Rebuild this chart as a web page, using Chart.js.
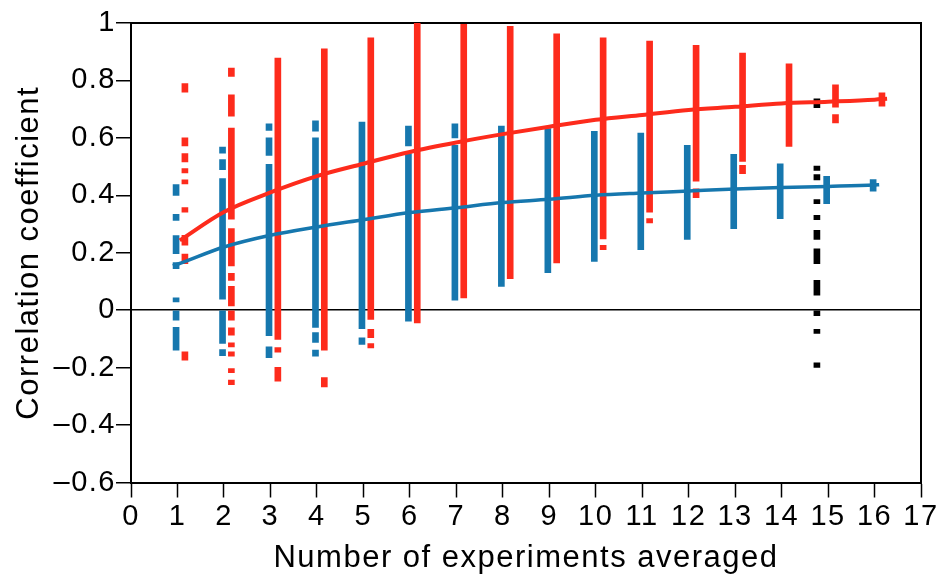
<!DOCTYPE html>
<html>
<head>
<meta charset="utf-8">
<script src="https://cdn.jsdelivr.net/npm/chart.js@4.4.1/dist/chart.umd.min.js"></script>
<style>
    html, body { margin: 0; padding: 0; background: #fff; }
    canvas { display: block; }
</style>
</head>
<body>
<canvas id="chart" width="943" height="578"></canvas>
<script>
const experiments = [1, 2, 3, 4, 5, 6, 7, 8, 9, 10, 11, 12, 13, 14, 15, 16]

// spread of correlation values for each number of averaged experiments, [low, high] pieces
const blueRanges = [
    [[0.40, 0.437], [0.313, 0.334], [0.197, 0.26], [0.145, 0.166], [0.029, 0.043], [-0.035, -0.002], [-0.139, -0.06]],
    [[0.547, 0.568], [0.489, 0.524], [0.038, 0.458], [-0.116, -0.002], [-0.158, -0.137]],
    [[0.626, 0.649], [0.539, 0.6], [-0.089, 0.508], [-0.165, -0.128]],
    [[0.623, 0.659], [-0.06, 0.6], [-0.112, -0.078], [-0.16, -0.139]],
    [[-0.064, 0.655], [-0.119, -0.096]],
    [[0.572, 0.641], [-0.038, 0.545]],
    [[0.6, 0.649], [0.035, 0.574]],
    [[0.083, 0.641]],
    [[0.131, 0.632]],
    [[0.17, 0.623]],
    [[0.211, 0.617]],
    [[0.246, 0.574]],
    [[0.284, 0.543]],
    [[0.319, 0.51]],
    [[0.371, 0.466]],
    [[0.414, 0.455]],
]

const redRanges = [
    [[0.759, 0.789], [0.572, 0.6], [0.516, 0.545], [0.478, 0.493], [0.44, 0.454], [0.341, 0.357], [0.226, 0.261], [0.162, 0.195], [-0.174, -0.145]],
    [[0.814, 0.843], [0.676, 0.75], [0.317, 0.634], [0.154, 0.284], [0.104, 0.128], [0.015, 0.083], [-0.035, 0], [-0.087, -0.061], [-0.128, -0.114], [-0.16, -0.145], [-0.218, -0.203], [-0.259, -0.243]],
    [[-0.102, 0.878], [-0.146, -0.13], [-0.247, -0.199]],
    [[-0.139, 0.91], [-0.267, -0.235]],
    [[-0.032, 0.948], [-0.096, -0.067], [-0.131, -0.116]],
    [[-0.044, 1.0]],
    [[0.043, 0.995]],
    [[0.11, 0.988]],
    [[0.165, 0.962]],
    [[0.248, 0.948], [0.211, 0.226]],
    [[0.341, 0.937], [0.304, 0.319]],
    [[0.449, 0.922], [0.392, 0.423]],
    [[0.518, 0.895], [0.475, 0.504]],
    [[0.57, 0.858]],
    [[0.707, 0.785], [0.652, 0.681]],
    [[0.71, 0.757]],
]

const blackX = 14.76
const blackRanges = [[0.705, 0.736], [0.487, 0.502], [0.454, 0.472], [0.371, 0.385], [0.315, 0.33], [0.246, 0.278], [0.162, 0.214], [0.052, 0.104], [-0.019, 0], [-0.081, -0.067], [-0.199, -0.183]]

// fitted curves
const blueFitX = [0.9, 1, 2, 3, 4, 5, 6, 7, 8, 9, 10, 11, 12, 13, 14, 15, 16, 16.1]
const blueFit = [0.155, 0.16, 0.22, 0.261, 0.29, 0.315, 0.34, 0.357, 0.375, 0.386, 0.4, 0.408, 0.415, 0.422, 0.427, 0.431, 0.436, 0.437]
const redFitX = [1.05, 2, 3, 4, 5, 6, 7, 8, 9, 10, 11, 12, 13, 14, 15, 16, 16.27]
const redFit = [0.243, 0.342, 0.41, 0.467, 0.51, 0.551, 0.584, 0.613, 0.639, 0.663, 0.68, 0.697, 0.708, 0.72, 0.726, 0.733, 0.736]

const yTickLabels = ['\u20130.6', '\u20130.4', '\u20130.2', '0', '0.2', '0.4', '0.6', '0.8', '1']

const RED = '#fd2b1c'
const BLUE = '#1677ae'
const FONT = "'Liberation Sans', Helvetica, Arial, sans-serif"
const blueShift = -0.03
const redShift = 0.16

const toBars = (ranges, shift) => experiments.flatMap((n, i) => ranges[i].map(r => ({ x: n + shift, y: r })))
const toLine = (xs, ys) => xs.map((x, i) => ({ x, y: ys[i] }))

const barStyle = { type: 'bar', grouped: false, maxBarThickness: 6, barPercentage: 1, categoryPercentage: 1, borderWidth: 0, order: 1 }
const lineStyle = { type: 'line', pointRadius: 0, borderWidth: 4, cubicInterpolationMode: 'monotone', fill: false, order: 0 }

const letterSpacing = {
    id: 'letterSpacing',
    beforeUpdate(chart) { chart.ctx.letterSpacing = '1.5px' },
    beforeDraw(chart) { chart.ctx.letterSpacing = '1.5px' },
}

Chart.defaults.color = '#000'
Chart.defaults.font.family = FONT

new Chart(document.getElementById('chart'), {
    type: 'bar',
    data: {
        datasets: [
            { ...lineStyle, label: 'Red fit', data: toLine(redFitX, redFit), borderColor: RED },
            { ...lineStyle, label: 'Blue fit', data: toLine(blueFitX, blueFit), borderColor: BLUE, borderWidth: 3.5 },
            { ...barStyle, label: 'Blue', data: toBars(blueRanges, blueShift), backgroundColor: BLUE },
            { ...barStyle, label: 'Red', data: toBars(redRanges, redShift), backgroundColor: RED },
            { ...barStyle, label: 'Black', data: blackRanges.map(r => ({ x: blackX, y: r })), backgroundColor: '#000' },
        ]
    },
    options: {
        responsive: false,
        animation: false,
        layout: { padding: { top: 23, right: 22, bottom: 0, left: 0 } },
        plugins: { legend: { display: false }, tooltip: { enabled: false } },
        scales: {
            x: {
                type: 'linear',
                min: 0,
                max: 17,
                offset: false,
                grid: { offset: false, drawOnChartArea: false, tickLength: 15, tickColor: '#000', tickWidth: 1.5 },
                border: { display: true, color: '#000', width: 2 },
                ticks: { stepSize: 1, autoSkip: false, maxRotation: 0, padding: 2, font: { size: 29 } },
                title: { display: true, text: 'Number of experiments averaged', font: { size: 31 }, padding: { top: 0, bottom: 1 } },
                afterFit(scale) { scale.height = 95.5 },
            },
            y: {
                min: -0.6,
                max: 1,
                grid: {
                    color: ctx => Math.abs(ctx.tick.value) < 1e-9 ? '#000' : 'rgba(0,0,0,0)',
                    lineWidth: 1.5,
                    tickLength: 15,
                    tickColor: '#000',
                    tickWidth: 1.5,
                },
                border: { display: true, color: '#000', width: 2 },
                ticks: { stepSize: 0.2, padding: 0, font: { size: 29 }, callback: (v, i) => yTickLabels[i] },
                title: { display: true, text: 'Correlation coefficient', font: { size: 31 }, padding: { top: 11, bottom: 0 } },
                afterFit(scale) { scale.width = 131 },
            },
            x2: {
                type: 'linear',
                position: 'top',
                grid: { display: false, drawTicks: false },
                ticks: { display: false },
                border: { display: true, color: '#000', width: 2 },
            },
            y2: {
                type: 'linear',
                position: 'right',
                grid: { display: false, drawTicks: false },
                ticks: { display: false },
                border: { display: true, color: '#000', width: 2 },
            },
        }
    },
    plugins: [letterSpacing]
})
</script>
</body>
</html>
